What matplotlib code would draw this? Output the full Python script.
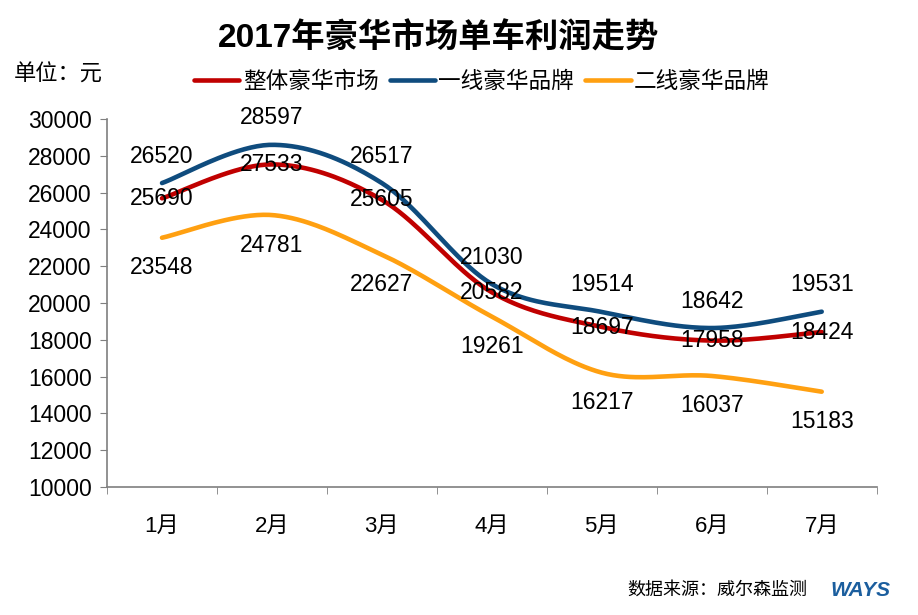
import matplotlib
matplotlib.use("Agg")
import matplotlib.pyplot as plt
import numpy as np

plt.rcParams['font.family'] = ['Liberation Sans', 'Noto Sans CJK SC', 'DejaVu Sans']

months = ["1月", "2月", "3月", "4月", "5月", "6月", "7月"]
whole = [25690, 27533, 25605, 20582, 18697, 17958, 18424]
tier1 = [26520, 28597, 26517, 21030, 19514, 18642, 19531]
tier2 = [23548, 24781, 22627, 19261, 16217, 16037, 15183]
names = ["整体豪华市场", "一线豪华品牌", "二线豪华品牌"]
colors = ["#C00000", "#0F4C7E", "#FFA011"]
offsets = [0, 27, -30]


def smooth(x, y, n=40):
    # cardinal spline through the points, just for drawing (like excel smoothed lines)
    x = np.asarray(x, float)
    y = np.asarray(y, float)
    px = np.concatenate([[x[0]], x, [x[-1]]])
    py = np.concatenate([[y[0]], y, [y[-1]]])
    t = 0.5
    ox, oy = [], []
    for i in range(1, len(px) - 2):
        mx0 = (px[i + 1] - px[i - 1]) * t
        my0 = (py[i + 1] - py[i - 1]) * t
        mx1 = (px[i + 2] - px[i]) * t
        my1 = (py[i + 2] - py[i]) * t
        s = np.linspace(0, 1, n)
        h00 = 2 * s**3 - 3 * s**2 + 1
        h10 = s**3 - 2 * s**2 + s
        h01 = -2 * s**3 + 3 * s**2
        h11 = s**3 - s**2
        ox.extend(h00 * px[i] + h10 * mx0 + h01 * px[i + 1] + h11 * mx1)
        oy.extend(h00 * py[i] + h10 * my0 + h01 * py[i + 1] + h11 * my1)
    return ox, oy


fig = plt.figure(figsize=(9.18, 6.15), dpi=100)
ax = fig.add_axes([0.1166, 0.208, 0.8384, 0.5985])

xs = np.arange(len(months))
series = [whole, tier1, tier2]
for k in range(3):
    sx, sy = smooth(xs, series[k])
    ax.plot(sx, sy, color=colors[k], lw=3.3, label=names[k], solid_capstyle='round')
for k in [1, 0, 2]:
    for i in range(len(months)):
        ax.annotate(str(series[k][i]), (xs[i], series[k][i]), xytext=(0, offsets[k]),
                    textcoords='offset pixels', ha='center', va='center', fontsize=16.5)

ax.set_xlim(-0.5, 6.5)
ax.set_ylim(10000, 30000)
ax.set_yticks(range(10000, 30001, 2000))
ax.set_xticks(xs)
ax.set_xticklabels(months)
ax.set_xticks(np.arange(-0.5, 7, 1), minor=True)
ax.tick_params(axis='x', which='major', length=0, labelsize=16, pad=21)
ax.tick_params(axis='x', which='minor', length=5, direction='out', color='#7f7f7f')
ax.tick_params(axis='y', length=5, direction='out', color='#7f7f7f', labelsize=16.5, pad=6)
for sp in ['top', 'right']:
    ax.spines[sp].set_visible(False)
for sp in ['left', 'bottom']:
    ax.spines[sp].set_color('#7f7f7f')
    ax.spines[sp].set_linewidth(1.2)

fig.text(0.478, 0.938, "2017年豪华市场单车利润走势", ha='center', va='center',
         fontsize=24, fontweight='bold')
fig.text(0.015, 0.878, "单位：元", ha='left', va='center', fontsize=16)
fig.legend(loc='center', bbox_to_anchor=(0.525, 0.867), ncol=3, frameon=False,
           fontsize=16.3, handlelength=2.0, handletextpad=0.15, columnspacing=0.5)
fig.text(0.683, 0.04, "数据来源：威尔森监测", ha='left', va='center', fontsize=13)
fig.text(0.905, 0.04, "WAYS", ha='left', va='center', fontsize=15, fontweight='bold',
         style='italic', color='#1B5E9E')

fig.savefig("out.png", dpi=100)
